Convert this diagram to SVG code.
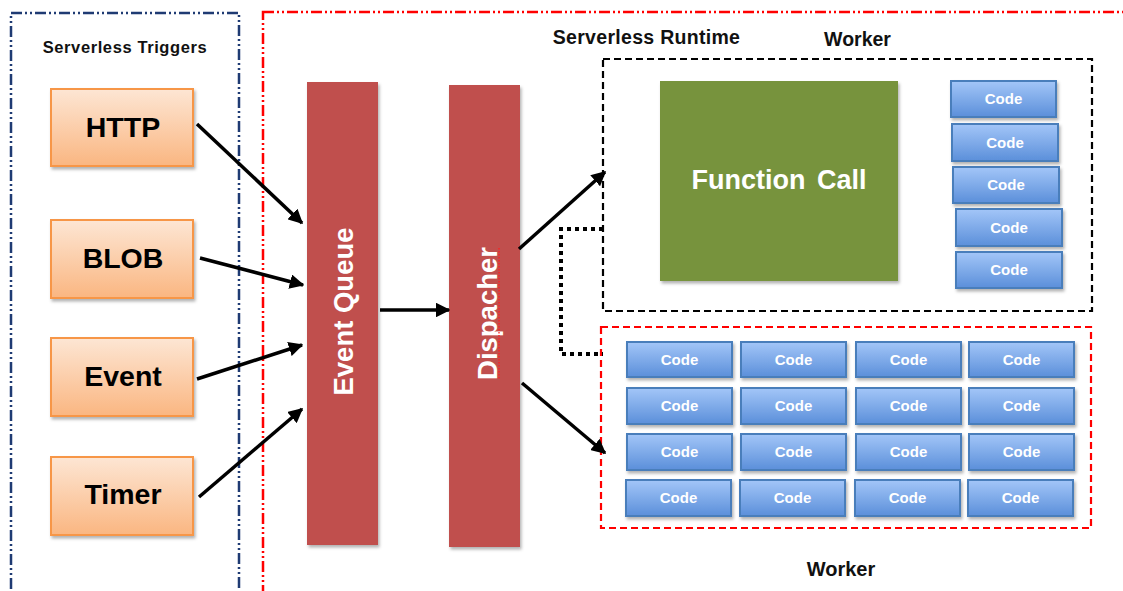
<svg xmlns="http://www.w3.org/2000/svg" width="1123" height="591" viewBox="0 0 1123 591">
<defs>
<linearGradient id="og" x1="0" y1="0" x2="0" y2="1"><stop offset="0" stop-color="#FDE6D4"/><stop offset="1" stop-color="#FAB681"/></linearGradient>
<linearGradient id="bg" x1="0" y1="0" x2="0" y2="1"><stop offset="0" stop-color="#A3C6F8"/><stop offset="1" stop-color="#5B8FDA"/></linearGradient>
<filter id="sh" x="-10%" y="-10%" width="130%" height="130%"><feDropShadow dx="1.5" dy="2.5" stdDeviation="1.8" flood-color="#000" flood-opacity="0.3"/></filter>
<marker id="ah" viewBox="0 0 10 10" refX="9" refY="5" markerWidth="4.2" markerHeight="4.2" orient="auto" markerUnits="strokeWidth"><path d="M0,0 L10,5 L0,10 z" fill="#000"/></marker>
<style>
.lbl{font-family:"Liberation Sans",Arial,sans-serif;font-weight:bold;fill:#111;text-anchor:middle}
.trig rect{fill:url(#og);stroke:#F79646;stroke-width:2;filter:url(#sh)}
.trig text{font-family:"Liberation Sans",Arial,sans-serif;font-weight:bold;font-size:28.5px;fill:#000;text-anchor:middle}
.bar{fill:#C0504D;filter:url(#sh)}
.bartxt{font-family:"Liberation Sans",Arial,sans-serif;font-weight:bold;font-size:27.5px;fill:#fff;text-anchor:middle}
.code rect{fill:url(#bg);stroke:#4A7EBB;stroke-width:2;filter:url(#sh)}
.code text{font-family:"Liberation Sans",Arial,sans-serif;font-weight:bold;font-size:15px;fill:#fff;text-anchor:middle}
.arr{stroke:#000;stroke-width:3.5;fill:none;marker-end:url(#ah)}
</style>
</defs>
<rect width="1123" height="591" fill="#fff"/>

<g id="triggers-group">
<rect x="11" y="13" width="228" height="600" fill="none" stroke="#1F3B73" stroke-width="2.5" stroke-dasharray="11 3 2 3 2 3"/>
<text class="lbl" x="125" y="53" font-size="16.5" letter-spacing="0.6">Serverless Triggers</text>
</g>
<g id="runtime-group">
<rect x="263" y="12" width="880" height="600" fill="none" stroke="#FF0000" stroke-width="2.5" stroke-dasharray="11 3 2 3 2 3"/>
<text class="lbl" x="646.5" y="44" font-size="19.5" letter-spacing="0.3">Serverless Runtime</text>
</g>

<g id="http" class="trig"><rect x="51" y="89" width="142" height="77"/><text x="123" y="137">HTTP</text></g>
<g id="blob" class="trig"><rect x="51" y="220" width="142" height="78"/><text x="123" y="268">BLOB</text></g>
<g id="event" class="trig"><rect x="51" y="338" width="142" height="78"/><text x="123" y="386">Event</text></g>
<g id="timer" class="trig"><rect x="51" y="457" width="142" height="78"/><text x="123" y="504">Timer</text></g>

<g id="event-queue"><rect class="bar" x="307" y="82" width="71" height="463"/><text class="bartxt" transform="translate(353,311.5) rotate(-90)">Event Queue</text></g>
<g id="dispacher"><rect class="bar" x="449" y="85" width="71" height="462"/><text class="bartxt" transform="translate(497,313.5) rotate(-90)">Dispacher</text>
<path d="M499,248 V380" stroke="#FF2020" stroke-width="1.3" stroke-dasharray="1.5 1.5" fill="none"/></g>

<g id="worker1">
<rect x="603" y="59" width="489" height="252" fill="#fff" stroke="#000" stroke-width="2.2" stroke-dasharray="7 4"/>
<text class="lbl" x="857.5" y="46" font-size="19.5">Worker</text>
</g>
<g id="function-call"><rect x="660" y="81" width="238" height="200" fill="#77933C" filter="url(#sh)"/><text x="779" y="189" font-family="Liberation Sans,Arial,sans-serif" font-weight="bold" font-size="27" fill="#fff" text-anchor="middle" word-spacing="4">Function Call</text></g>
<g id="w1-code1" class="code"><rect x="951" y="81" width="105" height="36"/><text x="1003.5" y="104">Code</text></g>
<g id="w1-code2" class="code"><rect x="952" y="124" width="106" height="37"/><text x="1005" y="148">Code</text></g>
<g id="w1-code3" class="code"><rect x="953" y="167" width="106" height="36"/><text x="1006" y="190">Code</text></g>
<g id="w1-code4" class="code"><rect x="956" y="209" width="106" height="37"/><text x="1009" y="233">Code</text></g>
<g id="w1-code5" class="code"><rect x="956" y="252" width="106" height="36"/><text x="1009" y="275">Code</text></g>

<g id="worker2">
<rect x="601" y="327" width="490" height="201" fill="#fff" stroke="#FF0000" stroke-width="2.2" stroke-dasharray="7 4"/>
<text class="lbl" x="841" y="576" font-size="20">Worker</text>
</g>
<g id="w2-codes" class="code">
<g id="c11"><rect x="627" y="342" width="105" height="35"/><text x="679.5" y="365">Code</text></g>
<g id="c12"><rect x="741" y="342" width="105" height="35"/><text x="793.5" y="365">Code</text></g>
<g id="c13"><rect x="856" y="342" width="105" height="35"/><text x="908.5" y="365">Code</text></g>
<g id="c14"><rect x="969" y="342" width="105" height="35"/><text x="1021.5" y="365">Code</text></g>
<g id="c21"><rect x="627" y="388" width="105" height="36"/><text x="679.5" y="411">Code</text></g>
<g id="c22"><rect x="741" y="388" width="105" height="36"/><text x="793.5" y="411">Code</text></g>
<g id="c23"><rect x="856" y="388" width="105" height="36"/><text x="908.5" y="411">Code</text></g>
<g id="c24"><rect x="969" y="388" width="105" height="36"/><text x="1021.5" y="411">Code</text></g>
<g id="c31"><rect x="627" y="434" width="105" height="36"/><text x="679.5" y="457">Code</text></g>
<g id="c32"><rect x="741" y="434" width="105" height="36"/><text x="793.5" y="457">Code</text></g>
<g id="c33"><rect x="856" y="434" width="105" height="36"/><text x="908.5" y="457">Code</text></g>
<g id="c34"><rect x="969" y="434" width="105" height="36"/><text x="1021.5" y="457">Code</text></g>
<g id="c41"><rect x="626" y="480" width="105" height="36"/><text x="678.5" y="503">Code</text></g>
<g id="c42"><rect x="740" y="480" width="105" height="36"/><text x="792.5" y="503">Code</text></g>
<g id="c43"><rect x="855" y="480" width="105" height="36"/><text x="907.5" y="503">Code</text></g>
<g id="c44"><rect x="968" y="480" width="105" height="36"/><text x="1020.5" y="503">Code</text></g>
</g>

<g id="connectors">
<line class="arr" x1="197" y1="124" x2="302" y2="223"/>
<line class="arr" x1="200" y1="258" x2="303" y2="285"/>
<line class="arr" x1="197" y1="379" x2="302" y2="345"/>
<line class="arr" x1="199" y1="497" x2="302" y2="409"/>
<line class="arr" x1="380" y1="310" x2="449" y2="310"/>
<line class="arr" x1="519" y1="249" x2="605" y2="172"/>
<line class="arr" x1="522" y1="383" x2="605" y2="453"/>
<path d="M603,229 H561 V354 H603" fill="none" stroke="#000" stroke-width="4" stroke-dasharray="4 4"/>
</g>
</svg>
